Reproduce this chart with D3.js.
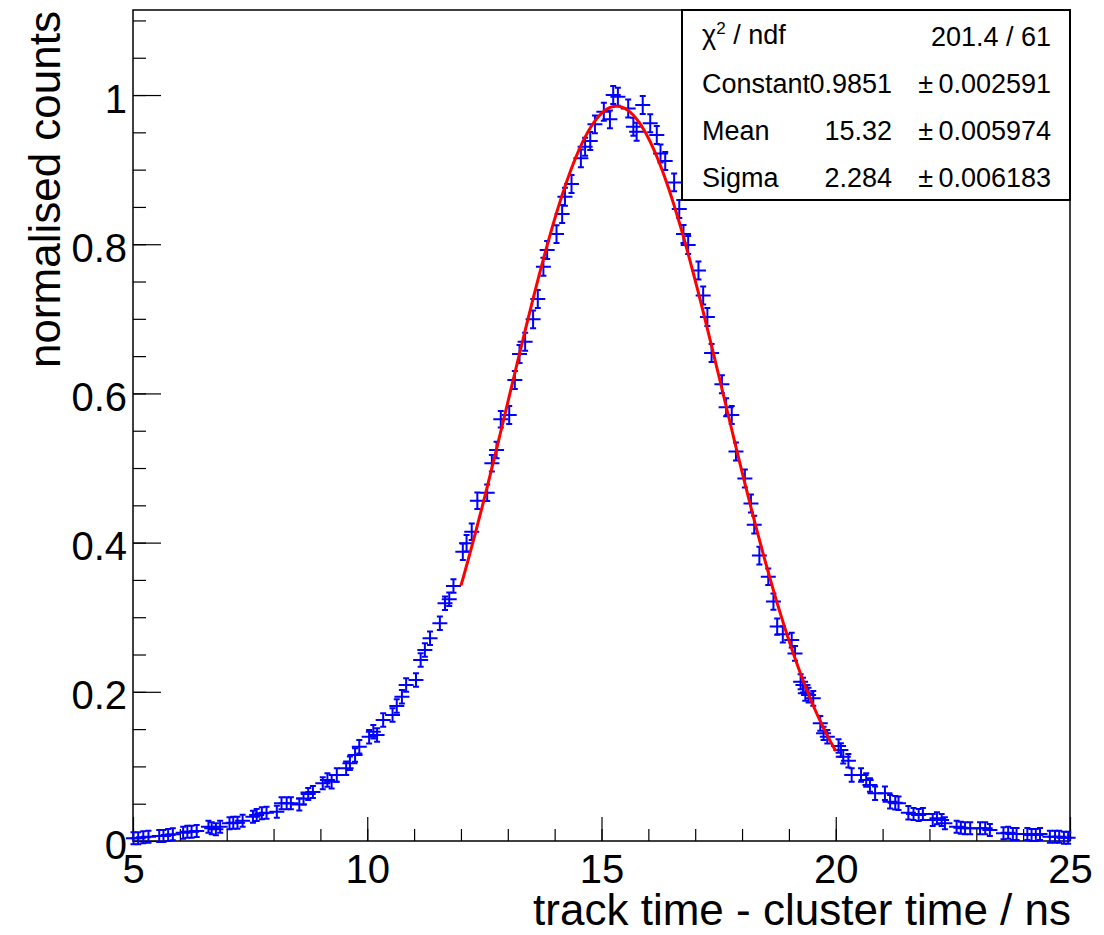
<!DOCTYPE html>
<html>
<head>
<meta charset="utf-8">
<script src="https://cdn.jsdelivr.net/npm/d3@7"></script>
<style>
  body { margin: 0; background: #fff; }
  svg text { font-family: "Liberation Sans", Arial, Helvetica, sans-serif; fill: #000; }
</style>
</head>
<body>
<div id="chart"></div>
<script>
// measured points: time difference (ns), normalised counts, error on counts
var timeNs = [
  5.01, 5.11, 5.22, 5.33, 5.56, 5.65, 5.75, 5.85, 6.07, 6.16, 6.25, 6.36, 6.61, 6.68, 6.77, 6.86,
  7.06, 7.14, 7.23, 7.34, 7.56, 7.64, 7.75, 7.85, 8.07,
  8.17, 8.28, 8.37, 8.55, 8.64, 8.74, 8.84, 9.05, 9.15, 9.24, 9.35, 9.55, 9.63, 9.74, 9.83, 10.04,
  10.13, 10.21, 10.34, 10.54, 10.63, 10.74, 10.83, 11.04, 11.14, 11.23, 11.34, 11.55, 11.66, 11.75, 11.84,
  12.04, 12.12, 12.23, 12.35, 12.56, 12.66, 12.76, 12.85, 13.03, 13.15, 13.25, 13.37, 13.54, 13.64,
  13.76, 13.84, 14.04, 14.16, 14.22, 14.36, 14.56, 14.65, 14.76, 14.86, 15.05, 15.18, 15.25, 15.35,
  15.57, 15.68, 15.75, 15.88, 16.04, 16.18, 16.26, 16.36, 16.55, 16.66, 16.75, 16.85, 17.07, 17.17,
  17.26, 17.35, 17.57, 17.66, 17.78, 17.87, 18.06, 18.19, 18.26, 18.37, 18.56, 18.67, 18.75, 18.87,
  19.06, 19.13, 19.25, 19.30, 19.35, 19.42, 19.52, 19.67, 19.74, 19.82, 20.06, 20.11, 20.16, 20.27,
  20.34, 20.54, 20.65, 20.73, 20.84, 21.05, 21.16, 21.27, 21.34, 21.55, 21.66, 21.77, 21.86, 22.07,
  22.16, 22.26, 22.33, 22.58, 22.67, 22.76, 22.87, 23.08, 23.19, 23.29, 23.58, 23.68, 23.78, 23.86,
  24.09, 24.18, 24.27, 24.36, 24.57, 24.68, 24.77, 24.87, 24.96
];
var normCounts = [
  0.0036, 0.0036, 0.0050, 0.0058, 0.0067, 0.0067, 0.0080, 0.0090, 0.0111, 0.0125, 0.0125, 0.0134,
  0.0192, 0.0170, 0.0157, 0.0192, 0.0237, 0.0245, 0.0245, 0.0272, 0.0326, 0.0348, 0.0371, 0.0379, 0.0393,
  0.0505, 0.0505, 0.0505, 0.0489, 0.0570, 0.0630, 0.0657, 0.0773, 0.0818, 0.0795, 0.0885, 0.0975,
  0.1042, 0.1153, 0.1264, 0.1398, 0.1465, 0.1421, 0.1622, 0.1689, 0.1810, 0.1934, 0.2091, 0.2158,
  0.2426, 0.2560, 0.2717, 0.2918, 0.3186, 0.3240, 0.3418,
  0.3878, 0.3991, 0.4146, 0.4562, 0.4669, 0.5063, 0.5241, 0.5653, 0.5711, 0.6180, 0.6528, 0.6693,
  0.6993, 0.7265, 0.7698, 0.7922, 0.8136, 0.8405, 0.8637, 0.8807, 0.9151, 0.9307, 0.9383, 0.9607,
  0.9776, 0.9674, 1.0000, 0.9977,
  0.9820, 0.9574, 0.9507, 0.9866, 0.9621, 0.9464, 0.9216, 0.9115, 0.8829, 0.8472, 0.8137, 0.7989,
  0.7647, 0.7312, 0.7024, 0.6542, 0.6123, 0.5814, 0.5710, 0.5221, 0.4859, 0.4524, 0.4241, 0.3826,
  0.3543, 0.3209, 0.2874, 0.2770, 0.2693, 0.2515, 0.2134, 0.2090, 0.1979, 0.1956, 0.1912, 0.1577,
  0.1443, 0.1398, 0.1273, 0.1220, 0.1130, 0.1076, 0.0885, 0.0885, 0.0818, 0.0751, 0.0639, 0.0639,
  0.0527, 0.0513, 0.0505, 0.0379, 0.0362, 0.0348, 0.0362, 0.0281, 0.0304, 0.0281, 0.0237, 0.0192,
  0.0178, 0.0170, 0.0170, 0.0170, 0.0170, 0.0147, 0.0103, 0.0111, 0.0094, 0.0094, 0.0094, 0.0080,
  0.0080, 0.0094, 0.0058, 0.0058, 0.0058, 0.0044, 0.0044
];
var countErr = [
  0.008, 0.008, 0.008, 0.008, 0.008, 0.008, 0.008, 0.008, 0.008, 0.008, 0.008, 0.008, 0.008,
  0.008, 0.008, 0.008, 0.008, 0.008, 0.008, 0.008, 0.008, 0.008, 0.008, 0.008, 0.008,
  0.008, 0.008, 0.008, 0.008, 0.008, 0.008, 0.008, 0.008, 0.009, 0.009, 0.009, 0.009, 0.009,
  0.009, 0.009, 0.009, 0.009, 0.009, 0.009, 0.009, 0.009, 0.009, 0.009, 0.009, 0.009, 0.009,
  0.009, 0.009, 0.009, 0.009, 0.009,
  0.011, 0.011, 0.011, 0.011, 0.011, 0.011, 0.011, 0.011, 0.012, 0.012, 0.012, 0.012, 0.012,
  0.012, 0.012, 0.012, 0.012, 0.012, 0.012, 0.012, 0.012, 0.012, 0.012, 0.012, 0.012, 0.012,
  0.012, 0.012,
  0.012, 0.012, 0.012, 0.012, 0.012, 0.012, 0.012, 0.012, 0.012, 0.012, 0.012, 0.012, 0.012,
  0.012, 0.012, 0.012, 0.012, 0.012, 0.012, 0.012, 0.012, 0.012, 0.012, 0.012, 0.011, 0.011,
  0.011, 0.011, 0.010, 0.010, 0.010, 0.010, 0.010, 0.010, 0.010, 0.010, 0.009, 0.009, 0.009,
  0.009, 0.009, 0.009, 0.009, 0.009, 0.009, 0.009, 0.009, 0.009, 0.009, 0.009, 0.009, 0.009,
  0.008, 0.008, 0.008, 0.008, 0.008, 0.008, 0.008, 0.008, 0.008, 0.008, 0.008, 0.008, 0.008,
  0.008, 0.008, 0.008, 0.008, 0.008, 0.008, 0.008, 0.008, 0.008, 0.008, 0.008, 0.008, 0.008, 0.008
];
var timeHalfWidth = 0.16;

// gaussian fit result (from the stats box)
var fitConstant = 0.9851;
var fitMean = 15.32;
var fitSigma = 2.284;
var fitRange = [12, 20];

var xTicks = [5, 10, 15, 20, 25];
var yTicks = [0, 0.2, 0.4, 0.6, 0.8, 1];
var statLabels = ["Constant", "Mean", "Sigma"];
var statValues = ["0.9851", "15.32", "2.284"];
var statErrors = ["0.002591", "0.005974", "0.006183"];
var chiNdf = "201.4 / 61";

var width = 1104, height = 935;
var frameLeft = 133, frameRight = 1070, frameTop = 10, frameBottom = 841;

var x = d3.scaleLinear().domain([5, 25]).range([frameLeft, frameRight]);
var y = d3.scaleLinear().domain([0, 1.114]).range([frameBottom, frameTop]);

var svg = d3.select("#chart")
  .append("svg")
    .attr("width", width)
    .attr("height", height);

// x axis, ticks pointing into the frame
var xMinor = d3.range(5, 25.01, 1);
svg.append("g")
  .attr("transform", "translate(0," + frameBottom + ")")
  .call(d3.axisBottom(x).tickValues(xMinor).tickSize(-12).tickFormat(""))
  .call(function(g){ g.select(".domain").remove(); });

var xAxis = svg.append("g")
  .attr("transform", "translate(0," + frameBottom + ")")
  .call(d3.axisBottom(x).tickValues(xTicks).tickSize(-24).tickFormat(d3.format("d")));
xAxis.select(".domain").remove();
xAxis.selectAll("text")
  .attr("y", 42)
  .attr("dy", null)
  .style("font-size", "40px");

// y axis
var yMinor = d3.range(0, 1.111, 0.05);
svg.append("g")
  .attr("transform", "translate(" + frameLeft + ",0)")
  .call(d3.axisLeft(y).tickValues(yMinor).tickSize(-13).tickFormat(""))
  .call(function(g){ g.select(".domain").remove(); });

var yAxis = svg.append("g")
  .attr("transform", "translate(" + frameLeft + ",0)")
  .call(d3.axisLeft(y).tickValues(yTicks).tickSize(-28).tickFormat(d3.format("~g")));
yAxis.select(".domain").remove();
yAxis.selectAll("text")
  .attr("x", -6)
  .attr("dy", 17)
  .style("font-size", "40px");

svg.selectAll(".tick line").attr("stroke", "#000").attr("stroke-width", 1.2);

// frame
svg.append("rect")
  .attr("x", frameLeft)
  .attr("y", frameTop)
  .attr("width", frameRight - frameLeft)
  .attr("height", frameBottom - frameTop)
  .attr("fill", "none")
  .attr("stroke", "#000")
  .attr("stroke-width", 1.5);

// data points with error crosses
var points = timeNs.map(function(t, i){
  return {t: t, v: normCounts[i], e: countErr[i]};
});

var marks = svg.append("g")
  .attr("stroke", "#0000ff")
  .attr("stroke-width", 2)
  .attr("fill", "none");

marks.selectAll("path")
  .data(points)
  .enter().append("path")
    .attr("d", function(d){
      var cx = x(d.t), cy = y(d.v);
      var y0 = y(d.v - d.e), y1 = y(d.v + d.e);
      return "M" + x(d.t - timeHalfWidth) + "," + cy + "H" + x(d.t + timeHalfWidth) +
        "M" + cx + "," + y0 + "V" + y1 +
        "M" + (cx - 3) + "," + y0 + "H" + (cx + 3) +
        "M" + (cx - 3) + "," + y1 + "H" + (cx + 3);
    });

// fit curve
var fitXs = d3.range(fitRange[0], fitRange[1] + 0.001, 0.05);
var gaus = function(t){
  return fitConstant * Math.exp(-0.5 * Math.pow((t - fitMean) / fitSigma, 2));
};
svg.append("path")
  .datum(fitXs)
  .attr("fill", "none")
  .attr("stroke", "#ff0000")
  .attr("stroke-width", 3)
  .attr("d", d3.line().x(function(t){ return x(t); }).y(function(t){ return y(gaus(t)); }));

// axis titles
svg.append("text")
  .attr("x", 1071)
  .attr("y", 925)
  .attr("text-anchor", "end")
  .style("font-size", "44px")
  .text("track time - cluster time / ns");

svg.append("text")
  .attr("transform", "translate(60,11) rotate(-90)")
  .attr("text-anchor", "end")
  .style("font-size", "44px")
  .text("normalised counts");

// stats box
var box = svg.append("g");
box.append("rect")
  .attr("x", 682)
  .attr("y", 10)
  .attr("width", 388)
  .attr("height", 190)
  .attr("fill", "#fff")
  .attr("stroke", "#000")
  .attr("stroke-width", 2);

var chiLabel = box.append("text")
  .attr("x", 702)
  .attr("y", 44)
  .style("font-size", "27px");
chiLabel.append("tspan").text("\u03c7");
chiLabel.append("tspan").attr("dy", -10).style("font-size", "17px").text("2");
chiLabel.append("tspan").attr("dy", 10).text(" / ndf");

box.append("text")
  .attr("x", 1051)
  .attr("y", 46)
  .attr("text-anchor", "end")
  .style("font-size", "27px")
  .text(chiNdf);

var rowY = [93, 140, 187];
statLabels.forEach(function(label, i){
  box.append("text")
    .attr("x", 702)
    .attr("y", rowY[i])
    .style("font-size", "27px")
    .text(label);
  box.append("text")
    .attr("x", 892)
    .attr("y", rowY[i])
    .attr("text-anchor", "end")
    .style("font-size", "27px")
    .text(statValues[i]);
  box.append("text")
    .attr("x", 1051)
    .attr("y", rowY[i])
    .attr("text-anchor", "end")
    .style("font-size", "27px")
    .text("\u00b1\u2009" + statErrors[i]);
});
</script>
</body>
</html>
